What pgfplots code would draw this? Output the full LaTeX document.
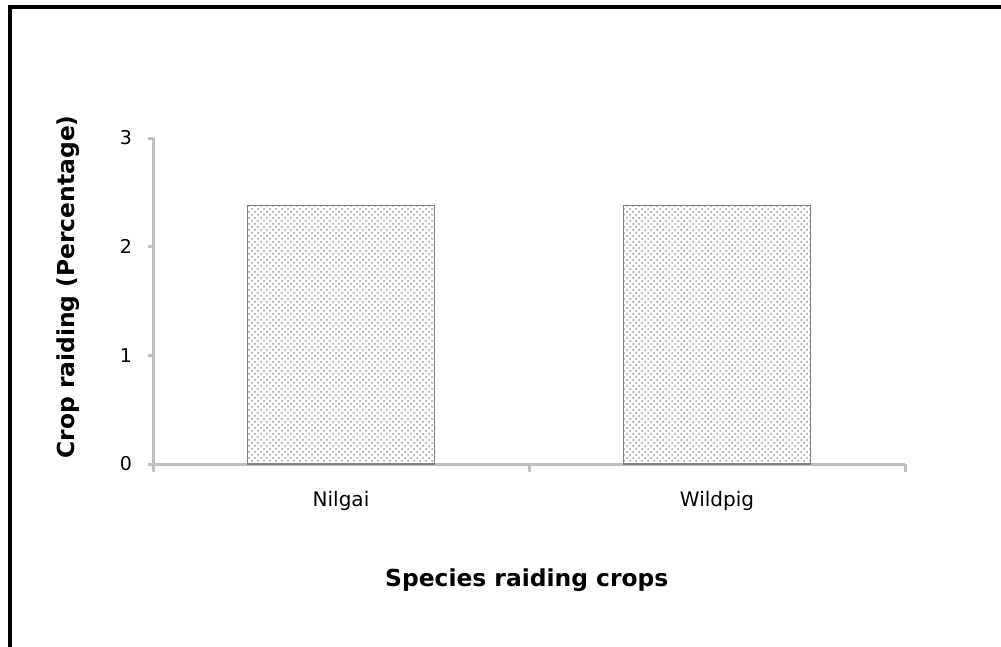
\documentclass[border=0pt]{standalone}
\usepackage{fontspec}
\setmainfont{DejaVu Sans}
\usepackage{pgfplots}
\pgfplotsset{compat=1.18}
\usetikzlibrary{patterns}
\definecolor{axgray}{HTML}{BFBFBF}
\definecolor{edgegray}{HTML}{808080}

\begin{document}
\begin{tikzpicture}
% page = 1001 x 647 px at 0.5pt per px
\useasboundingbox (0,0) rectangle (500.5pt,-323.5pt);
\draw[line width=2pt,black] (5pt,-330pt) -- (5pt,-3.5pt) -- (510pt,-3.5pt);
\begin{axis}[
    at={(76.5pt,-232pt)}, anchor=south west,
    scale only axis, width=376pt, height=163pt,
    xmin=-0.5, xmax=1.5, ymin=0, ymax=3,
    axis x line=bottom, axis y line=left,
    axis line style={-, axgray, line width=1.5pt},
    xtick={0,1}, xticklabels={Nilgai,Wildpig},
    major x tick style={draw=none},
    minor xtick={-0.5,0.5,1.5},
    minor x tick style={axgray, line width=1.5pt},
    minor tick length=4pt,
    ytick={0,1,2,3},
    major y tick style={axgray, line width=1.5pt},
    major tick length=2.5pt,
    tick align=outside,
    xticklabel style={font=\fontsize{10}{11}\selectfont, yshift=-7.5pt},
    yticklabel style={font=\fontsize{9.5}{10}\selectfont, xshift=-4.5pt},
    /pgf/number format/assume math mode=true,
    xlabel={Species raiding crops},
    ylabel={Crop raiding (Percentage)},
    xlabel style={font=\bfseries\fontsize{11.7}{13}\selectfont, at={(axis description cs:0.497,-0.356)}, anchor=center},
    ylabel style={font=\bfseries\fontsize{11.7}{13}\selectfont, at={(axis description cs:-0.113,0.543)}, anchor=center},
    clip=false,
]
\addplot[ybar, bar width=93.5pt, draw=edgegray, line width=0.6pt,
    pattern=crosshatch dots, pattern color=gray!80]
    coordinates {(0,2.38) (1,2.38)};
\end{axis}
\end{tikzpicture}
\end{document}
